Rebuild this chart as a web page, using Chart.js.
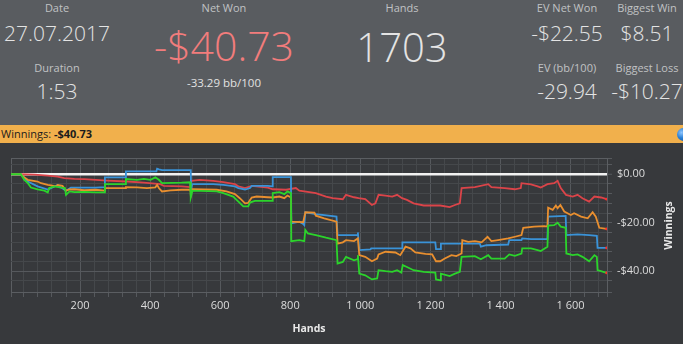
<!DOCTYPE html>
<html>
<head>
<meta charset="utf-8">
<script src="https://cdn.jsdelivr.net/npm/chart.js@4.4.0/dist/chart.umd.min.js"></script>
<style>
  body { margin: 0; width: 683px; height: 344px; overflow: hidden; background: #37393c; font-family: "Open Sans", sans-serif; position: relative; }
  #top { position: absolute; left: 0; top: 0; width: 683px; height: 125px; background: #595c60; }
  .t { position: absolute; width: 160px; margin-left: -80px; text-align: center; line-height: 1; white-space: nowrap; }
  .lbl { font-size: 11px; color: #c0c2c4; }
  .val { font-size: 21px; color: #e4e4e4; font-weight: 300; }
  .big { font-weight: 300; }
  #bar { position: absolute; left: 0; top: 125px; width: 683px; height: 18px; background: #f1b04c; overflow: hidden; }
  #bar span.txt { position: absolute; left: 1px; top: 2.7px; font-size: 11px; line-height: 1; color: #1c1c1c; white-space: nowrap; }
  #dot { position: absolute; left: 677px; top: 2.5px; width: 13px; height: 13px; border-radius: 50%;
         background: radial-gradient(circle at 35% 35%, #8fc6ff 0%, #2a7fd4 45%, #0e4f9a 100%); }
  #chart { position: absolute; left: 0; top: 143px; }
</style>
</head>
<body>
<div id="top">
  <div class="t lbl" style="left:57px;top:2px">Date</div>
  <div class="t val" style="left:57px;top:23.4px">27.07.2017</div>
  <div class="t lbl" style="left:57px;top:62px">Duration</div>
  <div class="t val" style="left:57px;top:81.4px">1:53</div>

  <div class="t lbl" style="left:224px;top:2px">Net Won</div>
  <div class="t big" style="left:224px;top:25.3px;font-size:41px;color:#f27c7c">-$40.73</div>
  <div class="t" style="left:224px;top:77px;font-size:11.5px;color:#e2e2e2">-33.29 bb/100</div>

  <div class="t lbl" style="left:402px;top:2px">Hands</div>
  <div class="t big" style="left:402px;top:27.2px;font-size:40px;color:#e4e4e4">1703</div>

  <div class="t lbl" style="left:567px;top:2px">EV Net Won</div>
  <div class="t val" style="left:567px;top:23.4px">-$22.55</div>
  <div class="t lbl" style="left:567px;top:62px">EV (bb/100)</div>
  <div class="t val" style="left:567px;top:81.4px">-29.94</div>

  <div class="t lbl" style="left:647px;top:2px">Biggest Win</div>
  <div class="t val" style="left:647px;top:23.4px">$8.51</div>
  <div class="t lbl" style="left:647px;top:62px">Biggest Loss</div>
  <div class="t val" style="left:647px;top:81.4px">-$10.27</div>
</div>
<div id="bar"><span class="txt">Winnings: <b>-$40.73</b></span><div id="dot"></div></div>
<canvas id="chart" width="683" height="201"></canvas>

<script>
// hands / winnings ($)
const greenHands = [3, 31, 41, 51, 60, 79, 98, 108, 112, 127, 146, 157, 160, 170, 184, 212, 245, 270, 271, 329, 331, 363, 382, 401, 415, 425, 434, 490, 514, 516, 521, 590, 609, 637, 652, 666, 680, 685, 699, 749, 750, 769, 783, 792, 802, 803, 826, 840, 843, 850, 873, 902, 932, 935, 950, 959, 982, 992, 993, 997, 1014, 1033, 1048, 1052, 1072, 1091, 1105, 1117, 1121, 1133, 1152, 1181, 1214, 1216, 1229, 1230, 1255, 1270, 1284, 1289, 1327, 1344, 1365, 1374, 1412, 1425, 1441, 1460, 1462, 1487, 1506, 1515, 1534, 1536, 1553, 1563, 1572, 1586, 1588, 1606, 1620, 1634, 1653, 1668, 1675, 1677, 1703]
const greenValues = [0, 0, -2.3, -3.7, -5.5, -6.2, -6.8, -7.5, -5.7, -5.0, -5.5, -5.7, -8.5, -7.1, -7.4, -7.3, -7.5, -7.5, -4.1, -4.1, -2.0, -2.3, -1.9, -2.3, -1.3, -2.3, -3.7, -3.5, -3.3, -9.6, -6.8, -7.1, -7.8, -9.2, -11.3, -13.3, -13.3, -11.7, -11.0, -11.0, -7.8, -7.4, -8.2, -7.1, -7.8, -27.6, -27.2, -27.6, -23.0, -24.4, -25.1, -26.2, -27.2, -36.9, -36.2, -34.1, -35.5, -35.0, -33.4, -41.0, -41.7, -43.4, -43.0, -39.6, -40.0, -40.3, -39.6, -40.6, -37.5, -38.3, -39.6, -40.3, -40.6, -43.4, -43.8, -41.0, -42.0, -41.0, -40.3, -34.1, -33.8, -35.1, -33.4, -34.8, -34.8, -33.1, -33.7, -32.7, -30.6, -30.6, -31.3, -31.7, -29.9, -21.2, -21.0, -20.0, -21.6, -22.1, -32.7, -33.4, -33.1, -34.1, -35.9, -33.4, -34.1, -39.6, -40.73]

const orangeHands = [3, 31, 41, 51, 79, 89, 108, 117, 132, 136, 150, 160, 170, 184, 212, 245, 270, 271, 329, 331, 363, 391, 415, 420, 425, 434, 458, 490, 514, 516, 521, 590, 618, 642, 656, 671, 680, 690, 704, 736, 750, 769, 783, 792, 802, 803, 837, 843, 869, 873, 897, 932, 935, 950, 959, 982, 993, 997, 1014, 1033, 1048, 1052, 1072, 1100, 1114, 1129, 1143, 1157, 1186, 1205, 1216, 1228, 1241, 1260, 1274, 1289, 1291, 1308, 1327, 1346, 1363, 1374, 1393, 1422, 1441, 1460, 1465, 1496, 1525, 1534, 1536, 1549, 1558, 1563, 1571, 1582, 1601, 1610, 1630, 1649, 1663, 1672, 1682, 1703]
const orangeValues = [0, 0, -1.3, -2.3, -3.0, -3.7, -4.4, -4.6, -5.0, -4.4, -4.8, -6.8, -6.3, -6.2, -6.6, -6.4, -6.8, -5.7, -5.7, -5.3, -5.4, -5.7, -5.4, -4.4, -5.7, -7.1, -6.7, -6.4, -6.4, -7.4, -6.2, -6.4, -7.1, -8.2, -9.9, -12.0, -11.8, -9.6, -9.2, -9.5, -9.6, -9.2, -9.9, -8.8, -9.6, -19.6, -19.8, -15.7, -15.8, -17.1, -18.2, -19.6, -28.6, -28.1, -27.2, -27.6, -26.5, -33.4, -34.1, -35.9, -34.8, -33.1, -32.0, -32.3, -33.4, -29.9, -30.6, -32.3, -32.9, -33.1, -35.9, -35.9, -34.8, -33.4, -33.8, -32.7, -27.2, -27.9, -27.6, -28.1, -25.8, -27.6, -27.2, -26.5, -25.8, -25.1, -22.1, -21.6, -21.4, -21.6, -13.8, -14.7, -12.9, -14.0, -12.7, -15.4, -16.8, -16.1, -17.5, -18.2, -15.7, -17.5, -22.1, -22.55]

const blueHands = [3, 31, 51, 79, 108, 136, 160, 174, 245, 270, 271, 329, 331, 418, 420, 425, 434, 516, 517, 520, 580, 609, 642, 652, 671, 685, 690, 736, 749, 750, 802, 803, 826, 837, 840, 843, 873, 932, 935, 991, 993, 997, 1029, 1031, 1119, 1120, 1214, 1216, 1229, 1230, 1341, 1344, 1360, 1422, 1425, 1460, 1462, 1487, 1534, 1536, 1586, 1588, 1620, 1653, 1675, 1677, 1703]
const blueValues = [0, 0, -3.0, -5.0, -6.3, -4.5, -6.8, -5.5, -5.5, -5.3, -1.3, -1.3, 1.2, 1.2, 2.3, 2.0, 1.7, 1.7, -6.5, -4.1, -4.1, -4.4, -5.0, -5.7, -6.3, -5.7, -4.8, -4.8, -5.0, -1.2, -1.2, -20.3, -19.6, -20.5, -21.0, -15.7, -16.5, -17.5, -25.1, -25.1, -24.0, -31.3, -31.0, -30.6, -30.6, -28.1, -28.1, -30.9, -30.9, -28.6, -28.6, -29.9, -29.3, -29.0, -27.2, -27.2, -26.5, -26.8, -26.8, -17.5, -17.2, -25.1, -24.8, -25.1, -25.4, -30.4, -30.4]

const redHands = [3, 31, 70, 108, 136, 155, 184, 212, 245, 277, 334, 382, 429, 439, 490, 514, 518, 542, 580, 609, 642, 652, 671, 690, 736, 750, 788, 816, 826, 873, 902, 921, 950, 959, 982, 995, 1014, 1033, 1043, 1052, 1072, 1091, 1105, 1119, 1133, 1152, 1181, 1228, 1255, 1270, 1284, 1289, 1327, 1365, 1374, 1412, 1441, 1458, 1460, 1487, 1506, 1515, 1534, 1553, 1563, 1572, 1587, 1606, 1620, 1634, 1653, 1668, 1687, 1703]
const redValues = [0, 0, -0.2, -0.6, -1.0, -1.6, -1.9, -2.0, -2.3, -2.6, -3.0, -3.5, -4.1, -4.8, -5.0, -5.3, -2.7, -2.3, -2.7, -3.3, -4.1, -5.0, -5.7, -4.8, -5.5, -6.2, -6.4, -5.7, -6.8, -7.8, -9.2, -9.9, -10.3, -8.5, -9.5, -9.9, -10.3, -12.7, -12.0, -8.5, -8.8, -9.2, -8.5, -9.9, -10.6, -12.0, -12.9, -12.9, -13.6, -12.7, -12.0, -5.7, -5.3, -4.1, -5.3, -5.7, -6.2, -5.7, -3.7, -4.2, -5.0, -5.5, -4.1, -3.7, -2.7, -5.7, -8.5, -9.2, -8.5, -9.9, -11.3, -9.2, -9.6, -10.3]

// axis labels
const xLabelValues = [200, 400, 600, 800, 1000, 1200, 1400, 1600]
const xLabels = ["200", "400", "600", "800", "1 000", "1 200", "1 400", "1 600"]
const yLabelValues = [-40, -20, 0]
const yLabels = ["-$40.00", "-$20.00", "$0.00"]

const xMin = 3, xMax = 1704
const yMin = -48.6, yMax = 6.7

function toPoints(hands, values) {
  return hands.map((h, i) => ({ x: h, y: values[i] }))
}

function makeLine(hands, values, color) {
  return {
    data: toPoints(hands, values),
    borderColor: color,
    borderWidth: 1.8,
    tension: 0,
    pointRadius: (c) => (c.dataIndex === hands.length - 1 ? 1.4 : 0),
    pointBackgroundColor: "#ff2b2b",
    pointBorderWidth: 0,
  }
}

const gridMinor = "#45484b"
const gridMajor = "#56595d"
const frame = "#5b5e62"

// minor ticks every 40 hands / $4, labels only on the major ones
const xGridTicks = [xMin]
for (let h = 40; h < xMax; h += 40) xGridTicks.push(h)
xGridTicks.push(xMax)
const yGridTicks = [yMin]
for (let v = -44; v < yMax; v += 4) yGridTicks.push(v)
yGridTicks.push(yMax)

// titre vertical, lu de bas en haut
const winningsTitle = {
  id: "winningsTitle",
  afterDraw(chart) {
    const ctx = chart.ctx
    ctx.save()
    ctx.translate(669, 82.5)
    ctx.rotate(-Math.PI / 2)
    ctx.font = "bold 10.5px 'Open Sans'"
    ctx.fillStyle = "#e8e8e8"
    ctx.textAlign = "center"
    ctx.textBaseline = "middle"
    ctx.fillText("Winnings", 0, 0)
    ctx.restore()
  },
}

Chart.defaults.font.family = "'Open Sans', sans-serif"

new Chart(document.getElementById("chart").getContext("2d"), {
  type: "line",
  data: {
    datasets: [
      makeLine(greenHands, greenValues, "#2bd42b"),
      makeLine(orangeHands, orangeValues, "#e98f2f"),
      makeLine(blueHands, blueValues, "#3a93d8"),
      makeLine(redHands, redValues, "#db4449"),
    ],
  },
  options: {
    responsive: false,
    animation: false,
    devicePixelRatio: 1,
    layout: { padding: { left: 11, top: 15, right: 0, bottom: 0 } },
    plugins: { legend: { display: false }, tooltip: { enabled: false } },
    scales: {
      x: {
        type: "linear",
        min: xMin,
        max: xMax,
        afterBuildTicks: (axis) => { axis.ticks = xGridTicks.map((v) => ({ value: v })) },
        afterFit: (axis) => { axis.height = 52 },
        ticks: {
          autoSkip: false,
          maxRotation: 0,
          minRotation: 0,
          padding: 2,
          color: "#dcdcdc",
          font: { size: 11 },
          callback: (v) => {
            const i = xLabelValues.indexOf(v)
            return i >= 0 ? xLabels[i] : ""
          },
        },
        grid: {
          color: (c) => {
            const v = c.tick.value
            if (v === xMin || v === xMax) return frame
            return v % 200 === 0 ? gridMajor : gridMinor
          },
          tickLength: 5,
          tickColor: gridMajor,
        },
        border: { display: true, color: frame },
        title: {
          display: true,
          text: "Hands",
          color: "#e8e8e8",
          font: { size: 10.5, weight: "bold" },
          padding: { top: 0, bottom: 9 },
        },
      },
      y: {
        position: "right",
        min: yMin,
        max: yMax,
        afterBuildTicks: (axis) => { axis.ticks = yGridTicks.map((v) => ({ value: v })) },
        afterFit: (axis) => { axis.width = 76 },
        ticks: {
          autoSkip: false,
          padding: 5,
          color: "#dcdcdc",
          font: { size: 11 },
          callback: (v) => {
            const i = yLabelValues.indexOf(v)
            return i >= 0 ? yLabels[i] : ""
          },
        },
        grid: {
          color: (c) => {
            const v = c.tick.value
            if (v === 0) return "#f2f2f2"
            if (v === yMin || v === yMax) return frame
            return v % 20 === 0 ? gridMajor : gridMinor
          },
          lineWidth: (c) => (c.tick.value === 0 ? 2.5 : 1),
          tickLength: 5,
          tickColor: gridMajor,
          tickWidth: 1,
        },
        border: { display: true, color: frame },
      },
    },
  },
  plugins: [winningsTitle],
})
</script>
</body>
</html>
